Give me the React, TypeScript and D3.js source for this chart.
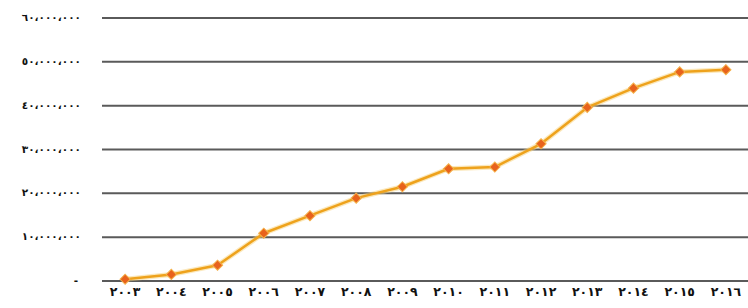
import React from 'react';
import * as d3 from 'd3';

// canvas
const width = 748;
const height = 308;

// data
const years = ['٢٠٠٣', '٢٠٠٤', '٢٠٠٥', '٢٠٠٦', '٢٠٠٧', '٢٠٠٨', '٢٠٠٩', '٢٠١٠', '٢٠١١', '٢٠١٢', '٢٠١٣', '٢٠١٤', '٢٠١٥', '٢٠١٦'];
const values = [400000, 1500000, 3600000, 10900000, 14900000, 18900000, 21500000, 25600000, 26000000, 31300000, 39600000, 44000000, 47700000, 48200000];
const yTicks = [0, 10000000, 20000000, 30000000, 40000000, 50000000, 60000000];
const yTickLabels = ['-', '١٠،٠٠٠،٠٠٠', '٢٠،٠٠٠،٠٠٠', '٣٠،٠٠٠،٠٠٠', '٤٠،٠٠٠،٠٠٠', '٥٠،٠٠٠،٠٠٠', '٦٠،٠٠٠،٠٠٠'];

// plot area
const plotLeft = 102;
const plotRight = 749;
const plotTop = 18;
const plotBottom = 281;

// styles
const gridColor = '#5a5a5a';
const lineColor = '#eea21c';
const markerColor = '#e8621c';
const textColor = '#111';

const x = d3.scalePoint<string>().domain(years).range([plotLeft, plotRight]).padding(0.5);
const y = d3.scaleLinear().domain([0, 60000000]).range([plotBottom, plotTop]);

const line = d3
  .line<number>()
  .x((_, i) => x(years[i]) as number)
  .y((d) => y(d));

// square turned 45deg gives the flat diamond marker
const marker = d3.symbol().type(d3.symbolSquare).size(52);

const App = () => (
  <svg width={width} height={height} style={{ position: 'absolute', left: 0, top: 0, background: '#fff' }}>
    {/* grid */}
    {yTicks.map((t, i) => (
      <g key={t}>
        <line x1={plotLeft} x2={width} y1={y(t)} y2={y(t)} stroke={gridColor} strokeWidth={2} />
        <text
          x={i === 0 ? 78 : 81}
          y={y(t) + 3}
          textAnchor="end"
          fontFamily="DejaVu Sans, sans-serif"
          fontWeight="bold"
          fontSize={10.5}
          fill={textColor}
          direction="ltr"
        >
          {yTickLabels[i]}
        </text>
      </g>
    ))}
    {/* series */}
    <path d={line(values) as string} fill="none" stroke="#f7d27a" strokeWidth={5} strokeOpacity={0.5} />
    <path d={line(values) as string} fill="none" stroke={lineColor} strokeWidth={2.5} strokeLinejoin="round" />
    {values.map((v, i) => (
      <path
        key={years[i]}
        d={marker() as string}
        transform={`translate(${x(years[i])},${y(v)}) rotate(45)`}
        fill={markerColor}
        stroke="#f5b24a"
        strokeWidth={1}
      />
    ))}
    {/* x labels */}
    {years.map((yr) => (
      <text
        key={yr}
        x={x(yr)}
        y={296}
        textAnchor="middle"
        fontFamily="DejaVu Sans, sans-serif"
        fontWeight="bold"
        fontSize={12.5}
        fill={textColor}
        direction="ltr"
      >
        {yr}
      </text>
    ))}
  </svg>
);

export default App;
